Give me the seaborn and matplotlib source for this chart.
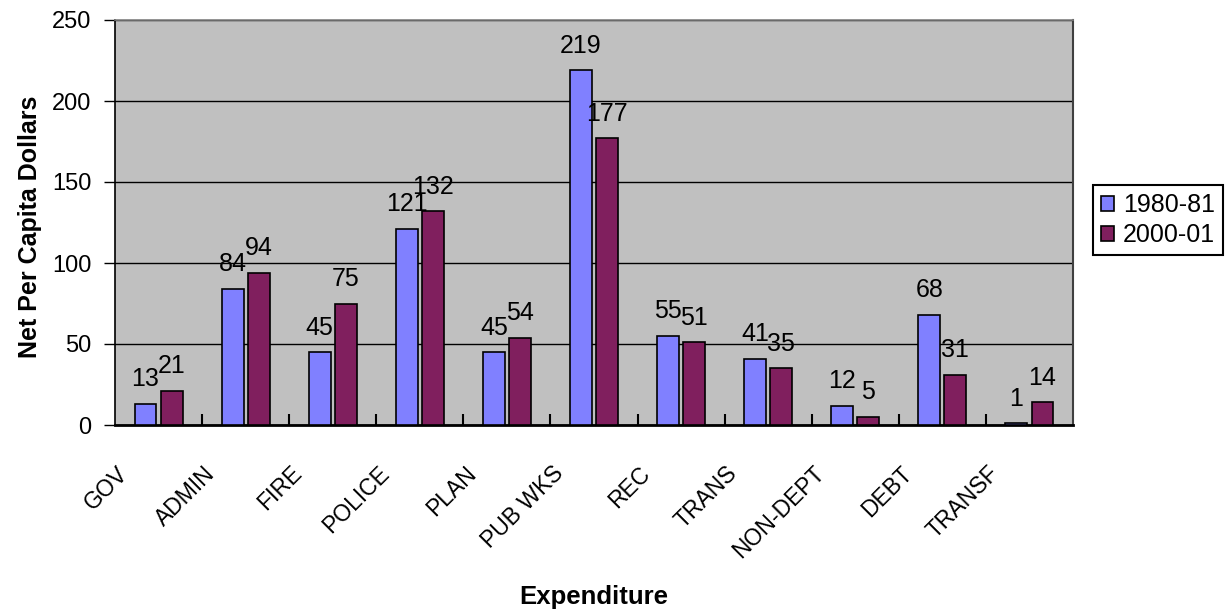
import matplotlib
matplotlib.use("Agg")
import matplotlib.pyplot as plt
import matplotlib.transforms as mtrans
import seaborn as sns
import pandas as pd

# data
categories = ["GOV", "ADMIN", "FIRE", "POLICE", "PLAN", "PUB WKS", "REC",
              "TRANS", "NON-DEPT", "DEBT", "TRANSF"]
vals_1980 = [13, 84, 45, 121, 45, 219, 55, 41, 12, 68, 1]
vals_2000 = [21, 94, 75, 132, 54, 177, 51, 35, 5, 31, 14]
series = ["1980-81", "2000-01"]
colors = ["#8080FF", "#801F5E"]

df = pd.DataFrame({
    "Expenditure": categories * 2,
    "Value": vals_1980 + vals_2000,
    "Year": [series[0]] * len(categories) + [series[1]] * len(categories),
})

sns.set_style("white")
plt.rcParams["font.family"] = ["Liberation Sans", "DejaVu Sans"]
plt.rcParams["text.color"] = "black"
plt.rcParams["axes.labelcolor"] = "black"
plt.rcParams["xtick.color"] = "black"
plt.rcParams["ytick.color"] = "black"

fig = plt.figure(figsize=(12.32, 6.09), dpi=100)
ax = fig.add_axes([115 / 1232, 1 - 425 / 609, (1073 - 115) / 1232, (425 - 20) / 609])
ax.set_facecolor("#C0C0C0")

sns.barplot(data=df, x="Expenditure", y="Value", hue="Year", order=categories,
            hue_order=series, palette=colors, width=0.6, gap=0.16,
            edgecolor="black", linewidth=1.2, saturation=1, ax=ax, zorder=3)

for cont in ax.containers:
    ax.bar_label(cont, fmt="%d", padding=9, fontsize=18, color="black", zorder=4)

ax.set_ylim(0, 250)
ax.set_xlim(-0.5, len(categories) - 0.5)
ax.set_yticks(range(0, 251, 50))
ax.yaxis.grid(True, color="black", linewidth=1)
ax.set_axisbelow(True)
ax.tick_params(axis="y", which="major", direction="out", length=8, width=1,
               color="black", labelcolor="black", labelsize=17, left=True, pad=9)

# category boundary ticks pointing up into the plot
ax.set_xticks([i + 0.5 for i in range(len(categories) - 1)], minor=True)
ax.tick_params(axis="x", which="minor", direction="in", length=8, width=1.5,
               color="black", bottom=True)
ax.tick_params(axis="x", which="major", length=0, labelsize=16.5, labelcolor="black")
ax.set_xticks(range(len(categories)))
ax.set_xticklabels(categories, rotation=45, ha="right", va="top")
off = mtrans.ScaledTranslation(-26 / 100, -32 / 100, fig.dpi_scale_trans)
for lab in ax.get_xticklabels():
    lab.set_transform(lab.get_transform() + off)

ax.spines["left"].set_color("black")
ax.spines["bottom"].set_color("black")
ax.spines["left"].set_linewidth(1.2)
ax.spines["bottom"].set_linewidth(2)
ax.spines["top"].set_color("#808080")
ax.spines["right"].set_color("#404040")
ax.spines["top"].set_linewidth(1.2)
ax.spines["right"].set_linewidth(1.5)

ax.set_ylabel("Net Per Capita Dollars", fontsize=18, fontweight="bold",
              va="center", color="black")
ax.yaxis.set_label_coords((30 - 115) / 958, 0.49)
ax.set_xlabel("")
fig.text(594 / 1232, 1 - 597 / 609, "Expenditure", fontsize=18.5,
         fontweight="bold", ha="center", va="center", color="black")

handles, labels = ax.get_legend_handles_labels()
leg = ax.legend(handles, labels, loc="center left",
                bbox_to_anchor=(1093 / 1232, 1 - 220 / 609),
                bbox_transform=fig.transFigure, fontsize=18, frameon=True,
                fancybox=False, edgecolor="black", framealpha=1,
                handlelength=0.55, handleheight=0.55, handletextpad=0.35,
                borderpad=0.3, labelspacing=0.25, borderaxespad=0)
leg.get_frame().set_linewidth(1.5)
for t in leg.get_texts():
    t.set_color("black")

fig.savefig("out.png", dpi=100)
